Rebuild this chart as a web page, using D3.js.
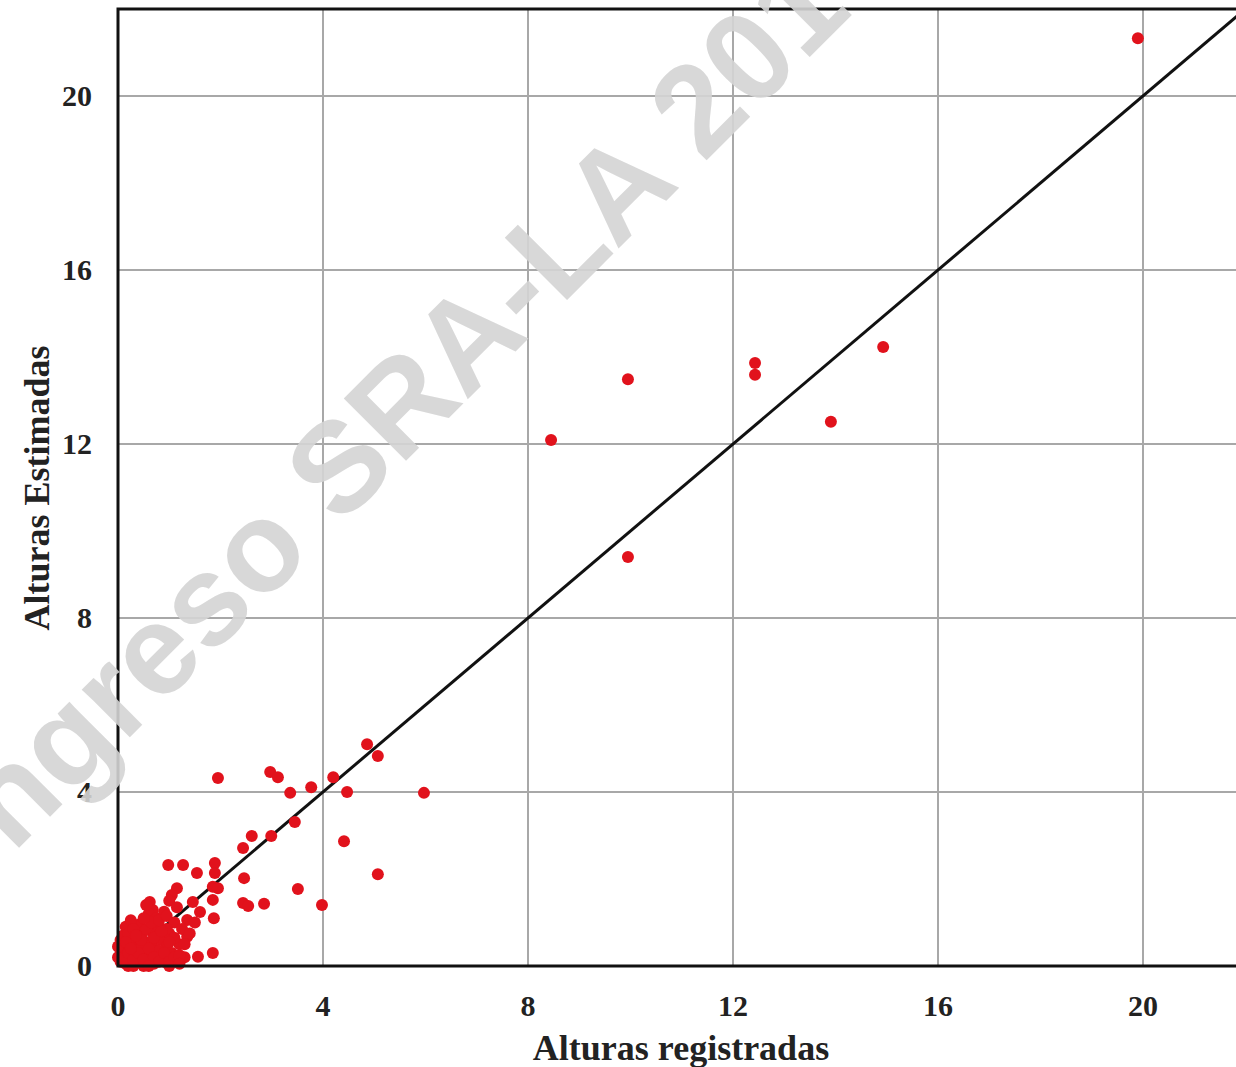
<!DOCTYPE html>
<html>
<head>
<meta charset="utf-8">
<script src="https://cdn.jsdelivr.net/npm/d3@7"></script>
<style>
  body { margin: 0; background: #fff; }
  svg { display: block; }
  .tick-label { font-family: 'Liberation Serif', serif; font-weight: bold; font-size: 30px; fill: #222; }
  .axis-title { font-family: 'Liberation Serif', serif; font-weight: bold; font-size: 36px; fill: #222; }
</style>
</head>
<body>
<svg width="1236" height="1067"></svg>
<script>
// Alturas registradas (x) vs Alturas Estimadas (y)
const registradas = [
  19.9, 14.93, 13.91, 12.43, 12.43, 9.95, 8.45, 9.95,
  1.95, 2.97, 3.12, 3.36, 3.77, 4.2, 4.47, 5.97, 4.86, 5.07,
  3.45, 2.61, 2.99, 2.44, 4.41, 5.07, 2.46, 3.51, 2.44, 2.54, 2.85, 3.98,
  1.89, 1.85, 1.85, 1.87, 0.98, 1.27, 1.54, 1.89, 1.95, 1.56, 1.85,
  1.15, 1.05, 1.46, 1.6, 0.62, 0.68, 1.35, 1.35,
  0.05, 0.1, 0.15, 0.2, 0.25, 0.3, 0.05, 0.1, 0.35, 0.4, 0.45, 0.5, 0.55, 0.6,
  0.65, 0.7, 0.75, 0.8, 0.85, 0.9, 0.95, 1.0, 1.05, 1.1, 1.2, 1.25, 1.3, 0.2,
  0.3, 0.6, 0.55, 0.75, 0.9, 1.0, 1.15, 0.4, 0.15, 0.25, 0.5, 0.7, 0.85, 1.4,
  1.5, 0.35, 0.05, 0.45, 0.65, 0.8, 0.95, 1.1,
  0.0, 0.0, 0.1, 0.2, 0.3, 0.4, 0.5, 0.6, 0.7, 0.8, 0.9, 1.0, 1.1, 0.2, 0.3, 0.45,
  0.55, 0.7, 0.85, 1.0, 1.2, 1.3, 0.15, 0.35, 0.65, 0.8, 0.95, 0.5, 0.25, 0.6, 1.0, 1.2
];
const estimadas = [
  21.33, 14.23, 12.51, 13.86, 13.59, 13.49, 12.09, 9.4,
  4.32, 4.46, 4.34, 3.98, 4.11, 4.34, 4.0, 3.98, 5.1, 4.83,
  3.31, 2.99, 2.99, 2.71, 2.87, 2.11, 2.02, 1.77, 1.45, 1.38, 1.43, 1.4,
  2.37, 1.82, 1.52, 1.1, 2.32, 2.32, 2.14, 2.14, 1.79, 0.21, 0.3,
  1.79, 1.63, 1.47, 1.24, 1.47, 1.29, 1.06, 0.67,
  0.1, 0.3, 0.05, 0.5, 0.2, 0.6, 0.6, 0.7, 0.4, 0.1, 0.7, 0.3, 0.55, 0.15,
  0.8, 0.4, 0.25, 0.9, 0.6, 0.1, 0.45, 0.75, 0.3, 1.0, 0.5, 0.85, 0.2, 0.0,
  0.0, 1.2, 1.4, 1.1, 1.25, 1.5, 1.35, 0.95, 0.9, 1.05, 0.0, 0.05, 0.15, 0.75,
  1.0, 0.25, 0.35, 0.45, 0.55, 0.35, 0.85, 0.65,
  0.2, 0.45, 0.15, 0.3, 0.15, 0.3, 0.15, 0.4, 0.2, 0.1, 0.3, 0.1, 0.2, 0.75, 0.85, 0.6,
  0.85, 0.65, 0.8, 0.55, 0.25, 0.5, 0.55, 0.7, 1.0, 1.05, 1.15, 1.1, 0.4, 0.0, 0.0, 0.05
];
const tickValues = [0, 4, 8, 12, 16, 20];
const xLabel = 'Alturas registradas';
const yLabel = 'Alturas Estimadas';
const watermark = 'Congreso SRA-LA 2018';

const data = registradas.map((x, i) => ({ x, y: estimadas[i] }));

const svg = d3.select('svg');
const plotLeft = 118, plotTop = 9, plotBottom = 966;

const xScale = d3.scaleLinear().domain([0, 22]).range([plotLeft, plotLeft + 22 * 51.25]);
const yScale = d3.scaleLinear().domain([0, 22]).range([plotBottom, plotTop]);

// grid
const grid = svg.append('g');
grid.selectAll('.vgrid')
  .data(tickValues.filter((d) => d > 0))
  .enter()
  .append('line')
  .attr('x1', (d) => xScale(d))
  .attr('x2', (d) => xScale(d))
  .attr('y1', plotTop)
  .attr('y2', plotBottom)
  .attr('stroke', '#a8a8a8')
  .attr('stroke-width', 2);
grid.selectAll('.hgrid')
  .data(tickValues.filter((d) => d > 0))
  .enter()
  .append('line')
  .attr('x1', plotLeft)
  .attr('x2', 1236)
  .attr('y1', (d) => yScale(d))
  .attr('y2', (d) => yScale(d))
  .attr('stroke', '#a8a8a8')
  .attr('stroke-width', 2);

// 1:1 line
svg.append('line')
  .attr('x1', xScale(0))
  .attr('y1', yScale(0))
  .attr('x2', xScale(22))
  .attr('y2', yScale(22))
  .attr('stroke', '#111')
  .attr('stroke-width', 3);

// points
svg.selectAll('circle')
  .data(data)
  .enter()
  .append('circle')
  .attr('cx', (d) => xScale(d.x))
  .attr('cy', (d) => yScale(d.y))
  .attr('r', 6)
  .attr('fill', '#e1121c');

// frame (right side falls outside the picture)
svg.append('path')
  .attr('d', `M1240,${plotTop}H${plotLeft}V${plotBottom}H1240`)
  .attr('fill', 'none')
  .attr('stroke', '#111')
  .attr('stroke-width', 3);

// tick labels
svg.selectAll('.xt')
  .data(tickValues)
  .enter()
  .append('text')
  .attr('class', 'tick-label')
  .attr('x', (d) => xScale(d))
  .attr('y', 1016)
  .attr('text-anchor', 'middle')
  .text((d) => d);
svg.selectAll('.yt')
  .data(tickValues)
  .enter()
  .append('text')
  .attr('class', 'tick-label')
  .attr('x', 92)
  .attr('y', (d) => yScale(d) + 10)
  .attr('text-anchor', 'end')
  .text((d) => d);

// axis titles
svg.append('text')
  .attr('class', 'axis-title')
  .attr('x', 681)
  .attr('y', 1060)
  .attr('text-anchor', 'middle')
  .text(xLabel);
svg.append('text')
  .attr('class', 'axis-title')
  .attr('transform', 'translate(49,488) rotate(-90)')
  .attr('text-anchor', 'middle')
  .text(yLabel);

// watermark, laid over the whole chart
svg.append('text')
  .attr('transform', 'translate(367,437) rotate(-45)')
  .attr('text-anchor', 'middle')
  .attr('dominant-baseline', 'central')
  .style('font-family', "'Liberation Sans', sans-serif")
  .style('font-weight', 'bold')
  .style('font-size', '128px')
  .attr('fill', '#d4d4d4')
  .attr('fill-opacity', 0.9)
  .text(watermark);
</script>
</body>
</html>
